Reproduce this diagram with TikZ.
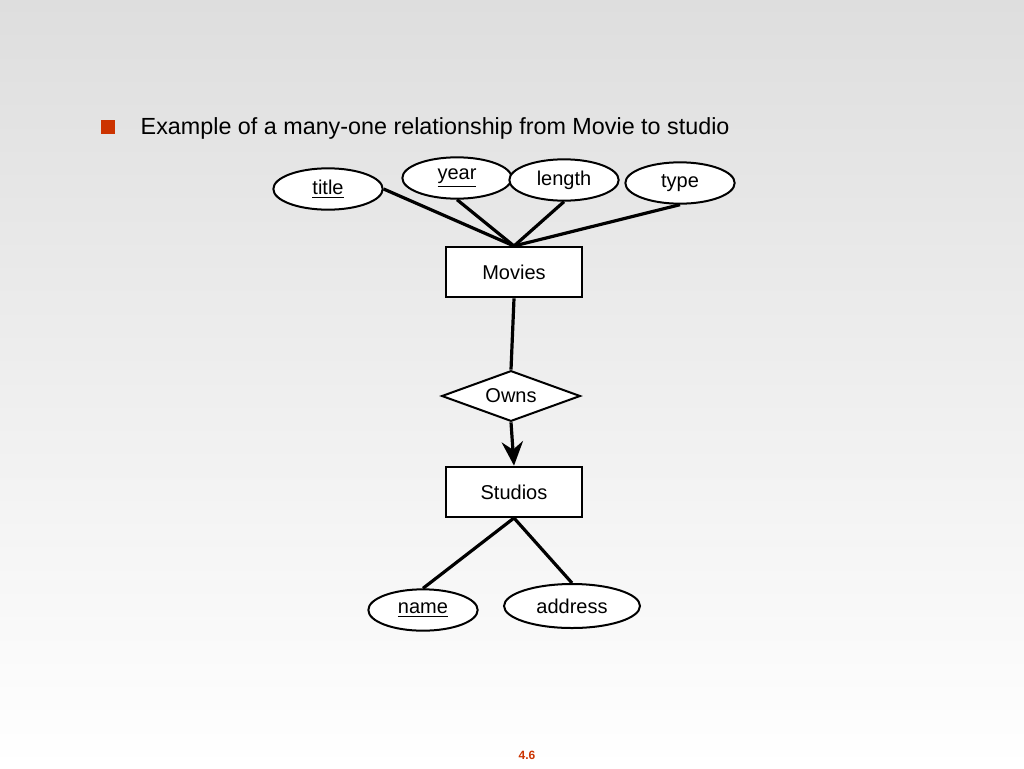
\documentclass[tikz,border=0pt]{standalone}
\usepackage{fontspec}
\setmainfont{Liberation Sans}
\usetikzlibrary{shapes.geometric,arrows.meta}
\definecolor{bullet}{RGB}{204,51,0}
\tikzset{
  attr/.style={ellipse, draw, line width=1.5pt, fill=white, minimum width=82pt, minimum height=31pt, inner sep=0pt, font=\fontsize{15}{15}\selectfont},
  entity/.style={rectangle, draw, line width=1.5pt, fill=white, minimum width=102pt, minimum height=38pt, font=\fontsize{15}{15}\selectfont},
  rel/.style={diamond, draw, line width=1.5pt, fill=white, aspect=2.75, minimum width=104pt, minimum height=38pt, inner sep=0pt, font=\fontsize{15}{15}\selectfont},
  link/.style={line width=2.4pt}
}
\begin{document}
\begin{tikzpicture}[x=0.75pt,y=-0.75pt]
  % background
  \shade[top color={rgb,255:red,222;green,222;blue,222}, bottom color=white] (0,0) rectangle (1024,768);
  \useasboundingbox (0,0) rectangle (1024,768);

  % heading
  \fill[bullet] (101,120) rectangle (115,134);
  \node[anchor=west, font=\fontsize{17.5}{17.5}\selectfont] (head) at (136,128) {Example of a many-one relationship from Movie to studio};

  % attributes of Movies
  \node[attr] (title) at (328,189) {\underline{title}};
  \node[attr] (year) at (457,178) {\underline{year}};
  \node[attr] (length) at (564,180) {length};
  \node[attr] (type) at (680,183) {type};

  % entities and relationship
  \node[entity] (movies) at (514,272) {Movies};
  \node[rel] (owns) at (511,396) {Owns};
  \node[entity] (studios) at (514,492) {Studios};

  % attributes of Studios
  \node[attr] (name) at (423,610) {\underline{name}};
  \node[attr, minimum width=102pt, minimum height=33pt] (address) at (572,606) {address};

  % connectors
  \coordinate (mtop) at (514,246);
  \draw[link] (title.east) -- (mtop);
  \draw[link] (year.south) -- (mtop);
  \draw[link] (length.south) -- (mtop);
  \draw[link] (type.south) -- (mtop);
  \draw[link] (movies.south) -- (owns.north);
  \draw[link, -{Stealth[length=18pt, width=16pt, inset=6pt]}] (owns.south) -- (studios.north);
  \coordinate (sbot) at (514,518);
  \draw[link] (sbot) -- (name.north);
  \draw[link] (sbot) -- (address.north);

  % page number
  \node[text=bullet, font=\fontsize{9}{9}\selectfont\bfseries] (page) at (527,755) {4.6};
\end{tikzpicture}
\end{document}
